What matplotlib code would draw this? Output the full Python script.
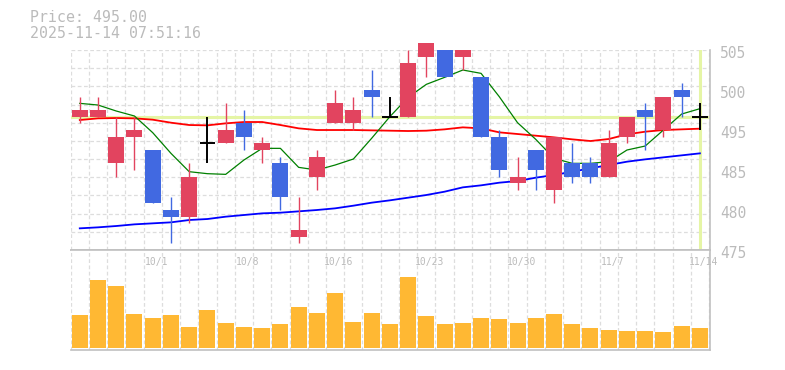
import matplotlib
matplotlib.use("Agg")
import matplotlib.pyplot as plt
import matplotlib.transforms as mtransforms
import numpy as np

# trading days shown on the chart
dates = ["9/25", "9/26", "9/29", "9/30", "10/1", "10/2", "10/3", "10/6", "10/7",
         "10/8", "10/9", "10/10", "10/14", "10/15", "10/16", "10/17", "10/20",
         "10/21", "10/22", "10/23", "10/24", "10/27", "10/28", "10/29", "10/30",
         "10/31", "11/4", "11/5", "11/6", "11/7", "11/10", "11/11", "11/12",
         "11/13", "11/14"]
date_labels = ["10/1", "10/8", "10/16", "10/23", "10/30", "11/7", "11/14"]

# OHLC
opens = [495, 495, 488, 492, 490, 481, 480, 491, 491, 494, 490, 488, 477, 486,
         494, 494, 499, 495, 495, 504, 505, 504, 501, 492, 485, 490, 484, 488,
         488, 486, 492, 496, 493, 499, 495]
highs = [498, 498, 495, 495, 490, 483, 488, 495, 497, 496, 492, 489, 483, 490,
         499, 498, 502, 498, 505, 506, 505, 505, 501, 493, 489, 490, 492, 491,
         489, 493, 495, 497, 498, 500, 497]
lows = [494, 495, 486, 487, 482, 476, 479, 488, 491, 490, 488, 481, 476, 484,
        494, 493, 495, 495, 495, 501, 501, 502, 492, 486, 484, 484, 482, 485,
        485, 486, 491, 490, 492, 495, 493]
closes = [496, 496, 492, 493, 482, 480, 486, 491, 493, 492, 491, 483, 478, 489,
          497, 496, 498, 495, 503, 506, 501, 505, 492, 487, 486, 487, 492, 486,
          486, 491, 495, 495, 498, 498, 495]

# moving averages (5 / 25 / 75 day)
ma5 = [497.0, 496.75, 495.85, 495.1, 492.6, 489.5, 486.75, 486.45, 486.35,
       488.5, 490.25, 490.25, 487.4, 487.0, 487.75, 488.65, 491.75, 495.0,
       497.9, 499.85, 500.9, 502.0, 501.5, 498.0, 494.1, 491.6, 488.75, 488.0,
       488.0, 488.25, 490.0, 490.6, 493.0, 495.4, 496.2]
ma25 = [494.5, 494.75, 494.8, 494.75, 494.55, 494.1, 493.75, 493.7, 494.0,
        494.2, 494.2, 493.75, 493.25, 493.0, 493.0, 493.0, 492.95, 492.9,
        492.85, 492.9, 493.1, 493.4, 493.25, 492.65, 492.4, 492.15, 491.9,
        491.6, 491.35, 491.65, 492.35, 492.75, 493.0, 493.1, 493.2]
ma75 = [478.25, 478.4, 478.6, 478.85, 479.0, 479.15, 479.5, 479.65, 480.0,
        480.25, 480.5, 480.6, 480.8, 481.0, 481.25, 481.65, 482.1, 482.45,
        482.85, 483.25, 483.75, 484.4, 484.7, 485.1, 485.35, 485.85, 486.25,
        486.75, 487.25, 487.75, 488.25, 488.6, 488.9, 489.2, 489.5]

# volume (relative units)
volume = [33, 68, 62, 34, 30, 33, 21, 38, 25, 21, 20, 24, 41, 35, 55, 26, 35,
          24, 71, 32, 24, 25, 30, 29, 25, 30, 34, 24, 20, 18, 17, 17, 16, 22, 20]

price_now = 495.0
stamp = "2025-11-14 07:51:16"
ytick_vals = [505, 499, 493, 487, 481, 475]
ytick_text = ["505", "500", "495", "485", "480", "475"]

UP = "#e2445f"
DOWN = "#4169e1"
GRID = "#dddddd"
TEXT = "#bbbbbb"
MONO = "DejaVu Sans Mono"

fig = plt.figure(figsize=(7.85, 3.7), dpi=100)
ax = fig.add_axes([0.09, 0.3243, 0.8144, 0.5405])
axv = fig.add_axes([0.09, 0.054, 0.8144, 0.2703])

n = len(dates)
x = np.arange(n)

for a in (ax, axv):
    a.set_xlim(-0.5, 34.55)
    a.set_xticks(np.arange(-0.5, n, 1))
    a.tick_params(length=0, labelbottom=False, labelleft=False)
    a.grid(True, axis="x", color=GRID, linestyle=(0, (3, 2)), lw=0.9)
    a.spines["left"].set_visible(False)
    for s in ("right", "bottom", "top"):
        a.spines[s].set_color("#c0c0c0")
        a.spines[s].set_linewidth(1.2)
    a.set_axisbelow(True)

ax.spines["top"].set_visible(False)
ax.set_ylim(475, 505)
ax.set_yticks(np.linspace(475, 505, 12))
ax.grid(True, axis="y", color=GRID, linestyle=(0, (3, 2)), lw=0.9)

# current price / time markers
ax.axhline(price_now, color="#e5f5a5", lw=2.2, zorder=1.5)
ax.axvline(x[-1], color="#e5f5a5", lw=2.2, zorder=1.5)

# moving averages
ax.plot(x, ma75, color="#0000ff", lw=1.3, zorder=2)
ax.plot(x, ma25, color="#ff0000", lw=1.3, zorder=2)
ax.plot(x, ma5, color="#008000", lw=0.9, zorder=2)

# candles
o = np.array(opens, float)
h = np.array(highs, float)
l = np.array(lows, float)
c = np.array(closes, float)
doji = o == c
cols = np.where(c > o, UP, DOWN)
for i in range(n):
    if doji[i]:
        ax.vlines(x[i], l[i], h[i], color="black", lw=1.4, zorder=4, clip_on=False)
        ax.hlines(c[i], x[i] - 0.43, x[i] + 0.43, color="black", lw=1.4, zorder=4,
                  clip_on=False)
    else:
        ax.vlines(x[i], l[i], h[i], color=cols[i], lw=1.0, zorder=3, clip_on=False)
bodies = ax.bar(x[~doji], (c - o)[~doji], bottom=o[~doji], width=0.877,
                color=cols[~doji], zorder=3)
for b in bodies:
    b.set_clip_on(False)

# right hand price labels
lab_tr = mtransforms.blended_transform_factory(ax.transAxes, ax.transData)
lab_tr = lab_tr + mtransforms.ScaledTranslation(0, -3 / 100, fig.dpi_scale_trans)
for v, t in zip(ytick_vals, ytick_text):
    ax.text(1.016, v, t, transform=lab_tr, ha="left", va="center",
            fontsize=10.5, color=TEXT, family=MONO, clip_on=False)

# volume
axv.set_ylim(-2, 98)
axv.set_yticks([])
axv.bar(x, volume, width=0.877, color="#ffb833", zorder=3)

date_tr = mtransforms.blended_transform_factory(axv.transData, axv.transAxes)
for d in date_labels:
    axv.text(dates.index(d) + 0.2, 0.88, d, transform=date_tr, ha="center",
             va="center", fontsize=7, color=TEXT, family=MONO)

fig.text(30 / 785, 1 - 17.7 / 370, "Price: %.2f" % price_now, fontsize=10.7,
         color=TEXT, family=MONO, va="center", ha="left")
fig.text(30 / 785, 1 - 33.3 / 370, stamp, fontsize=10.7,
         color=TEXT, family=MONO, va="center", ha="left")

fig.savefig("out.png", dpi=100)
